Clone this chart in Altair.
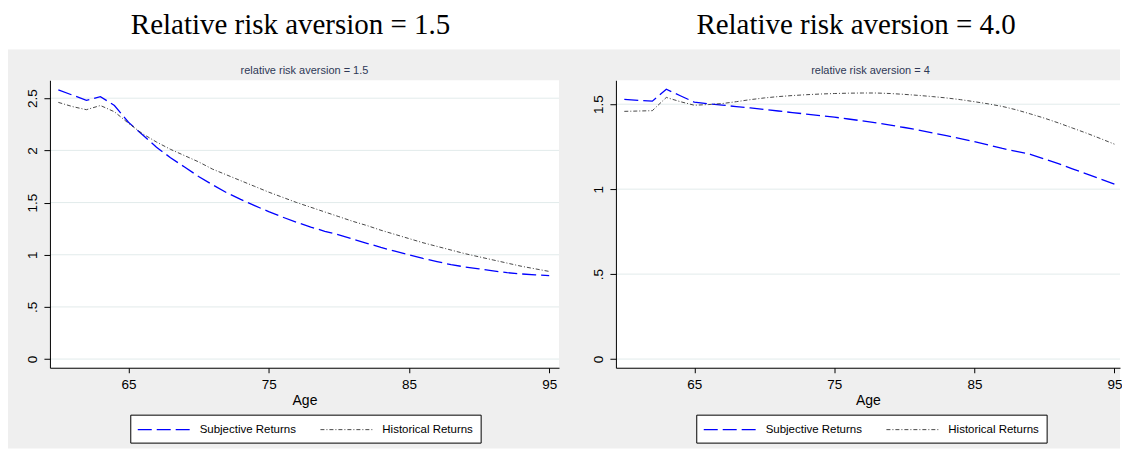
import altair as alt
import pandas as pd

ages = list(range(60, 96))
series_names = ["Subjective Returns", "Historical Returns"]
panel_titles = ["Relative risk aversion = 1.5", "Relative risk aversion = 4.0"]
panel_subtitles = ["relative risk aversion = 1.5", "relative risk aversion = 4"]
x_ticks = [65, 75, 85, 95]
y_ticks_15 = [0, 0.5, 1, 1.5, 2, 2.5]
y_ticks_40 = [0, 0.5, 1, 1.5]

subj_15 = [2.58, 2.53, 2.48, 2.515, 2.43, 2.27, 2.15, 2.03, 1.93, 1.84,
           1.75, 1.67, 1.595, 1.53, 1.47, 1.413, 1.36, 1.31, 1.265, 1.225,
           1.19, 1.15, 1.11, 1.07, 1.035, 1.0, 0.965, 0.935, 0.905, 0.883,
           0.865, 0.845, 0.828, 0.816, 0.808, 0.80]
hist_15 = [2.46, 2.42, 2.39, 2.43, 2.37, 2.26, 2.16, 2.08, 2.01, 1.95,
           1.89, 1.82, 1.765, 1.71, 1.655, 1.60, 1.55, 1.50, 1.455, 1.41,
           1.365, 1.32, 1.28, 1.235, 1.195, 1.155, 1.115, 1.08, 1.045, 1.01,
           0.98, 0.95, 0.92, 0.89, 0.865, 0.84]
subj_40 = [1.528, 1.523, 1.518, 1.588, 1.55, 1.512, 1.503, 1.495, 1.486, 1.478,
           1.469, 1.46, 1.451, 1.442, 1.433, 1.424, 1.413, 1.402, 1.39, 1.377,
           1.363, 1.348, 1.332, 1.315, 1.297, 1.28, 1.26, 1.24, 1.222, 1.205,
           1.178, 1.15, 1.12, 1.09, 1.06, 1.03]
hist_40 = [1.458, 1.46, 1.462, 1.54, 1.515, 1.494, 1.498, 1.504, 1.515, 1.527,
           1.537, 1.545, 1.551, 1.556, 1.56, 1.563, 1.565, 1.566, 1.566, 1.563,
           1.558, 1.552, 1.545, 1.537, 1.527, 1.515, 1.502, 1.487, 1.467, 1.443,
           1.418, 1.39, 1.36, 1.33, 1.298, 1.265]

FONT = "Liberation Sans"
PH = 288


def panel(subj, hist, yticks, ydom, xmax, pw, title, subtitle, gx0, gx1, title_x):
    df = pd.DataFrame({
        "Age": ages * 2,
        "value": subj + hist,
        "series": [series_names[0]] * len(ages) + [series_names[1]] * len(ages),
    })
    xs = alt.Scale(domain=[59.4, xmax], nice=False, zero=False)
    ys = alt.Scale(domain=ydom, nice=False, zero=False)
    one = alt.Data(values=[{"k": 0}])

    gray = alt.Chart(one).mark_rect(color="#efefef").encode(
        x=alt.value(gx0), x2=alt.value(gx1), y=alt.value(-31), y2=alt.value(369))
    band = alt.Chart(one).mark_rect(color="white").encode(
        x=alt.value(gx0), x2=alt.value(gx1), y=alt.value(-72), y2=alt.value(-31))
    plotbg = alt.Chart(one).mark_rect(color="white").encode(
        x=alt.value(0), x2=alt.value(pw), y=alt.value(0), y2=alt.value(PH))
    grid = alt.Chart(pd.DataFrame({"v": yticks})).mark_rule(
        color="#e2ebeb", strokeWidth=1).encode(
        y=alt.Y("v:Q", scale=ys), x=alt.value(0), x2=alt.value(pw))

    leg = alt.Legend(
        title=None, orient="none", legendX=80.5, legendY=335,
        direction="horizontal", symbolType="M-4,0H4", symbolSize=175.6,
        symbolOffset=19,
        labelFont=FONT, labelFontSize=11.5, labelColor="black",
        labelOffset=28, columnPadding=22, padding=7.5,
        strokeColor="black", fillColor="white")

    lines = alt.Chart(df).mark_line().encode(
        x=alt.X("Age:Q", scale=xs,
                axis=alt.Axis(values=x_ticks, title="Age", grid=False, zindex=2,
                              tickSize=5, labelPadding=5, titlePadding=2)),
        y=alt.Y("value:Q", scale=ys,
                axis=alt.Axis(values=yticks, title=None, grid=False, zindex=2,
                              labelAngle=270, labelAlign="center",
                              labelBaseline="bottom", tickSize=6,
                              labelPadding=4.5,
                              labelExpr="replace(format(datum.value, '~g'), '0.', '.')")),
        color=alt.Color("series:N", scale=alt.Scale(domain=series_names,
                                                     range=["#0000ff", "#333333"]),
                        legend=leg),
        strokeDash=alt.StrokeDash("series:N", scale=alt.Scale(domain=series_names,
                                                               range=[[14, 5], [4, 2, 1, 2]]),
                                  legend=leg),
        strokeWidth=alt.StrokeWidth("series:N", scale=alt.Scale(domain=series_names,
                                                                range=[1.3, 0.9]),
                                    legend=leg),
    )

    sub = alt.Chart(alt.Data(values=[{"t": subtitle}])).mark_text(
        font=FONT, fontSize=11, color="#2e3856", align="center",
        baseline="alphabetic").encode(text="t:N", x=alt.value(255), y=alt.value(-6))
    ttl = alt.Chart(alt.Data(values=[{"t": title}])).mark_text(
        font="Liberation Serif", fontSize=29, color="black", align="center",
        baseline="alphabetic").encode(text="t:N", x=alt.value(title_x), y=alt.value(-46.7))

    return alt.layer(gray, band, plotbg, grid, lines, sub, ttl).properties(
        width=pw, height=PH)


left = panel(subj_15, hist_15, y_ticks_15, [-0.083, 2.672], 95.7, 510,
             panel_titles[0], panel_subtitles[0], -42, 515, 241)
right = panel(subj_40, hist_40, y_ticks_40, [-0.051, 1.641], 95.4, 505,
              panel_titles[1], panel_subtitles[1], -52, 505, 240.6)

chart = alt.hconcat(left, right, spacing=0).resolve_scale(
    color="independent", strokeDash="independent", strokeWidth="independent",
    x="independent", y="independent"
).properties(padding=0, background="white").configure_view(
    stroke=None
).configure_axis(
    domainColor="black", domainWidth=1, tickColor="black", tickWidth=1,
    labelColor="black", labelFont=FONT, labelFontSize=13.5,
    titleFont=FONT, titleFontSize=14, titleFontWeight="normal", titleColor="black"
)

chart.save("out.html", embed_options={"renderer": "svg", "actions": False})
